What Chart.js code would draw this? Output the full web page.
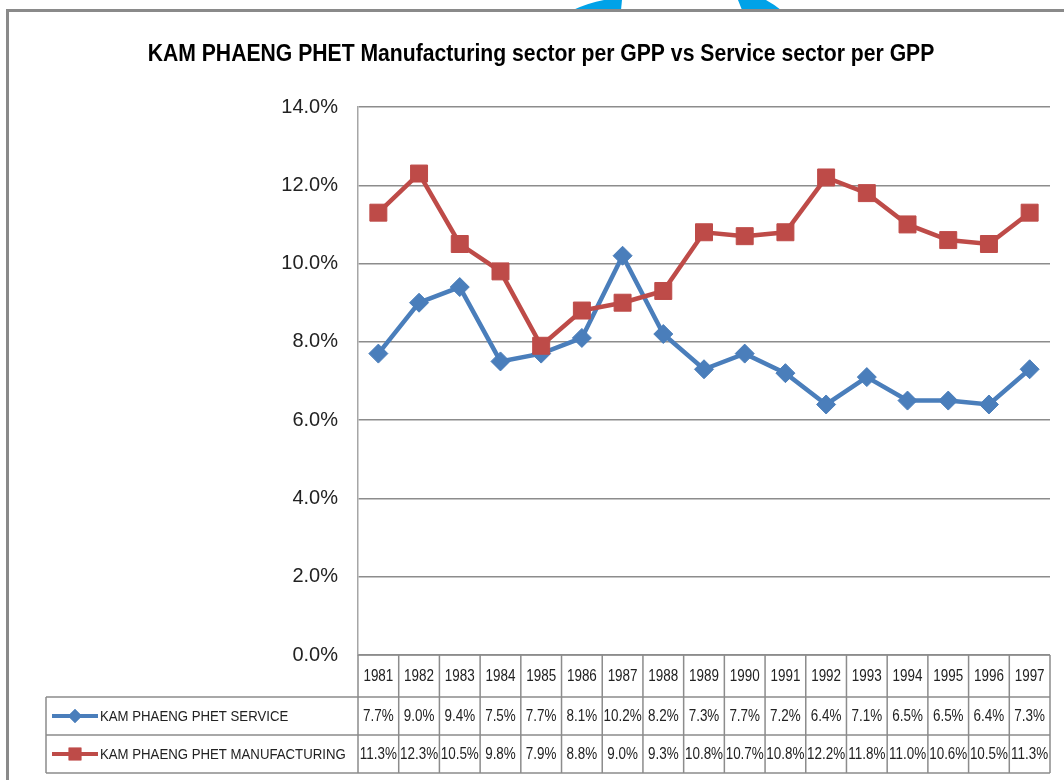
<!DOCTYPE html>
<html lang="en">
<head>
  <meta charset="UTF-8" />
  <title>KAM PHAENG PHET</title>
  <script src="https://cdn.jsdelivr.net/npm/chart.js"></script>
  <style>
    body { margin: 0; background: #fff; }
    canvas { display: block; }
  </style>
</head>
<body>
  <canvas id="gppChart" width="1064" height="780"></canvas>
  <script>
    const years = ['1981', '1982', '1983', '1984', '1985', '1986', '1987', '1988', '1989',
                   '1990', '1991', '1992', '1993', '1994', '1995', '1996', '1997'];
    const service = [7.7, 9.0, 9.4, 7.5, 7.7, 8.1, 10.2, 8.2, 7.3, 7.7, 7.2, 6.4, 7.1, 6.5, 6.5, 6.4, 7.3];
    const manufacturing = [11.3, 12.3, 10.5, 9.8, 7.9, 8.8, 9.0, 9.3, 10.8, 10.7, 10.8, 12.2, 11.8, 11.0, 10.6, 10.5, 11.3];
    const yTicks = [0, 2, 4, 6, 8, 10, 12, 14];

    const titleText = 'KAM PHAENG PHET Manufacturing sector per GPP vs Service sector per GPP';
    const seriesNames = ['KAM PHAENG PHET SERVICE', 'KAM PHAENG PHET MANUFACTURING'];
    const blue = '#4a7ebb';
    const red = '#be4b48';
    const lineGrey = '#8c8c8c';

    // text squeezed sideways, the original uses a narrow font we don't have
    function narrowText(ctx, text, x, y, squeeze) {
      ctx.save();
      ctx.translate(x, y);
      ctx.scale(squeeze, 1);
      ctx.fillText(text, 0, 0);
      ctx.restore();
    }

    // frame around the chart + bit of the blue logo peeking over the top
    const framePlugin = {
      id: 'frame',
      beforeDraw(chart) {
        const ctx = chart.ctx;
        ctx.save();
        ctx.fillStyle = '#00a2e8';
        ctx.beginPath();
        ctx.moveTo(573, 10);
        ctx.quadraticCurveTo(588, 3, 604, 0);
        ctx.lineTo(622, 0);
        ctx.lineTo(621, 10);
        ctx.closePath();
        ctx.fill();
        ctx.beginPath();
        ctx.moveTo(738, 0);
        ctx.lineTo(766, 0);
        ctx.quadraticCurveTo(775, 5, 781, 10);
        ctx.lineTo(742, 10);
        ctx.closePath();
        ctx.fill();
        ctx.fillStyle = '#fff';
        ctx.fillRect(7, 10, 1064, 780);
        ctx.strokeStyle = '#8a8a8a';
        ctx.lineWidth = 3;
        ctx.beginPath();
        ctx.moveTo(7.5, 782);
        ctx.lineTo(7.5, 10.5);
        ctx.lineTo(1066, 10.5);
        ctx.stroke();

        ctx.fillStyle = '#000';
        ctx.font = 'bold 23px "Liberation Sans", sans-serif';
        ctx.textAlign = 'center';
        ctx.textBaseline = 'middle';
        narrowText(ctx, titleText, 541, 55, 0.92);
        ctx.restore();
      }
    };

    // Excel-style data table under the plot
    const tablePlugin = {
      id: 'dataTable',
      afterDraw(chart) {
        const ctx = chart.ctx;
        const xs = chart.scales.x;
        const area = chart.chartArea;
        const step = xs.getPixelForValue(1) - xs.getPixelForValue(0);
        const rows = [area.bottom, 697, 735, 773];
        const legendLeft = 46;

        ctx.save();
        ctx.strokeStyle = lineGrey;
        ctx.lineWidth = 1.5;
        ctx.beginPath();
        ctx.moveTo(area.left, rows[0]);
        ctx.lineTo(area.right, rows[0]);
        for (let r = 1; r < rows.length; r++) {
          ctx.moveTo(legendLeft, rows[r]);
          ctx.lineTo(area.right, rows[r]);
        }
        for (let k = 0; k <= years.length; k++) {
          const x = xs.getPixelForValue(0) - step / 2 + k * step;
          ctx.moveTo(x, rows[0]);
          ctx.lineTo(x, rows[3]);
        }
        ctx.moveTo(legendLeft, rows[1]);
        ctx.lineTo(legendLeft, rows[3]);
        ctx.stroke();

        ctx.fillStyle = '#222';
        ctx.textAlign = 'center';
        ctx.textBaseline = 'middle';
        ctx.font = '16px "Liberation Sans", sans-serif';
        const cols = [years, service.map(v => v.toFixed(1) + '%'), manufacturing.map(v => v.toFixed(1) + '%')];
        cols.forEach((labels, r) => {
          const yMid = (rows[r] + rows[r + 1]) / 2 + 1;
          labels.forEach((t, i) => narrowText(ctx, t, xs.getPixelForValue(i), yMid, 0.84));
        });

        // legend keys
        const colors = [blue, red];
        const styles = ['rectRot', 'rect'];
        const radii = [7, 9];
        ctx.font = '15px "Liberation Sans", sans-serif';
        ctx.textAlign = 'left';
        for (let s = 0; s < 2; s++) {
          const yMid = (rows[s + 1] + rows[s + 2]) / 2;
          ctx.strokeStyle = colors[s];
          ctx.lineWidth = 4;
          ctx.beginPath();
          ctx.moveTo(52, yMid);
          ctx.lineTo(98, yMid);
          ctx.stroke();
          ctx.fillStyle = colors[s];
          Chart.helpers.drawPoint(ctx, { pointStyle: styles[s], radius: radii[s], borderWidth: 0 }, 75, yMid);
          ctx.fill();
          ctx.fillStyle = '#222';
          narrowText(ctx, seriesNames[s], 100, yMid + 1, 0.88);
        }
        ctx.restore();
      }
    };

    const ctx = document.getElementById('gppChart').getContext('2d');
    const gppChart = new Chart(ctx, {
      type: 'line',
      data: {
        labels: years,
        datasets: [
          {
            label: seriesNames[0],
            data: service,
            borderColor: blue,
            backgroundColor: blue,
            borderWidth: 4.5,
            pointStyle: 'rectRot',
            pointRadius: 9.5,
            pointBorderWidth: 1,
            tension: 0,
            order: 1
          },
          {
            label: seriesNames[1],
            data: manufacturing,
            borderColor: red,
            backgroundColor: red,
            borderWidth: 4.5,
            pointStyle: 'rect',
            pointRadius: 12,
            pointBorderWidth: 1,
            tension: 0,
            order: 0
          }
        ]
      },
      options: {
        responsive: false,
        animation: false,
        layout: { padding: { left: 30, right: 14, top: 107, bottom: 125 } },
        plugins: {
          legend: { display: false },
          tooltip: { enabled: false },
          title: { display: false }
        },
        scales: {
          x: {
            display: false,
            offset: true
          },
          y: {
            min: yTicks[0],
            max: yTicks[yTicks.length - 1],
            afterFit(scale) { scale.width = 328; },
            afterBuildTicks(scale) { scale.ticks = yTicks.map(v => ({ value: v })); },
            ticks: {
              padding: 20,
              color: '#222',
              font: { family: '"Liberation Sans", sans-serif', size: 20 },
              callback: v => v.toFixed(1) + '%'
            },
            grid: { color: lineGrey, lineWidth: 1.5, drawTicks: false },
            border: { color: '#a6a6a6', width: 1.5 }
          }
        }
      },
      plugins: [framePlugin, tablePlugin]
    });
  </script>
</body>
</html>
